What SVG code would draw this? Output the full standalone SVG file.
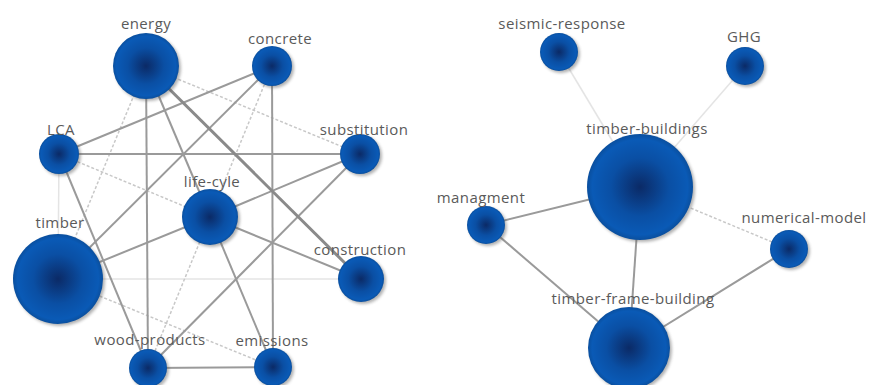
<svg xmlns="http://www.w3.org/2000/svg" width="870" height="385" viewBox="0 0 870 385">
<style>
  .lbl{font-family:"Open Sans","Liberation Sans",sans-serif;font-size:15px;fill:#5a5a5a;text-anchor:middle;letter-spacing:0.4px}
  .node{fill:url(#g)}
  .sh{fill:#555;opacity:0.45;filter:url(#blur)}
  .e1{stroke:#8a8a8a;stroke-width:3;fill:none}
  .e2{stroke:#9a9a9a;stroke-width:2;fill:none}
  .e3{stroke:#c8c8c8;stroke-width:1.5;fill:none;stroke-dasharray:3 2}
  .e4{stroke:#e4e4e4;stroke-width:1.5;fill:none}
</style>
<defs>
  <radialGradient id="g" cx="50%" cy="50%" r="50%">
    <stop offset="0" stop-color="#0b2a66"/>
    <stop offset="0.55" stop-color="#0a4fa4"/>
    <stop offset="0.9" stop-color="#0a5ab6"/>
    <stop offset="1" stop-color="#0a4f9e"/>
  </radialGradient>
  <filter id="blur" x="-20%" y="-20%" width="140%" height="140%"><feGaussianBlur stdDeviation="1.5"/></filter>
</defs>
<rect width="870" height="385" fill="#ffffff"/>
<g id="connectors">
  <!-- left network -->
  <line class="e4" x1="58" y1="279" x2="361" y2="279"/>
  <line class="e3" x1="146" y1="66" x2="58" y2="279"/>
  <line class="e3" x1="146" y1="66" x2="360" y2="154"/>
  <line class="e3" x1="272" y1="66" x2="148" y2="368"/>
  <line class="e3" x1="59" y1="154" x2="210" y2="217"/>
  <line class="e3" x1="58" y1="279" x2="273" y2="367"/>
  <line class="e4" x1="59" y1="154" x2="58" y2="279"/>
  <line class="e2" x1="146" y1="66" x2="148" y2="368"/>
  <line class="e2" x1="146" y1="66" x2="210" y2="217"/>
  <line class="e2" x1="272" y1="66" x2="273" y2="367"/>
  <line class="e2" x1="272" y1="66" x2="59" y2="154"/>
  <line class="e2" x1="272" y1="66" x2="58" y2="279"/>
  <line class="e2" x1="59" y1="154" x2="360" y2="154"/>
  <line class="e2" x1="59" y1="154" x2="148" y2="368"/>
  <line class="e2" x1="58" y1="279" x2="210" y2="217"/>
  <line class="e2" x1="210" y1="217" x2="360" y2="154"/>
  <line class="e2" x1="210" y1="217" x2="361" y2="279"/>
  <line class="e2" x1="210" y1="217" x2="273" y2="367"/>
  <line class="e2" x1="148" y1="368" x2="360" y2="154"/>
  <line class="e2" x1="148" y1="368" x2="273" y2="367"/>
  <line class="e1" x1="146" y1="66" x2="361" y2="279"/>
  <!-- right network -->
  <line class="e4" x1="559" y1="52" x2="640" y2="187"/>
  <line class="e4" x1="745" y1="66" x2="640" y2="187"/>
  <line class="e3" x1="640" y1="187" x2="789" y2="249"/>
  <line class="e2" x1="486" y1="225" x2="640" y2="187"/>
  <line class="e2" x1="640" y1="187" x2="629" y2="348"/>
  <line class="e2" x1="486" y1="225" x2="629" y2="348"/>
  <line class="e2" x1="789" y1="249" x2="629" y2="348"/>
</g>
<g id="energy"><circle class="sh" cx="148" cy="68" r="33"/><circle class="node" cx="146" cy="66" r="33"/><text class="lbl" x="146" y="29">energy</text></g>
<g id="concrete"><circle class="sh" cx="274" cy="68" r="20"/><circle class="node" cx="272" cy="66" r="20"/><text class="lbl" x="280" y="44">concrete</text></g>
<g id="LCA"><circle class="sh" cx="61" cy="156" r="20"/><circle class="node" cx="59" cy="154" r="20"/><text class="lbl" x="61" y="135">LCA</text></g>
<g id="substitution"><circle class="sh" cx="362" cy="156" r="20"/><circle class="node" cx="360" cy="154" r="20"/><text class="lbl" x="364" y="135">substitution</text></g>
<g id="life-cyle"><circle class="sh" cx="212" cy="219" r="28"/><circle class="node" cx="210" cy="217" r="28"/><text class="lbl" x="212" y="187">life-cyle</text></g>
<g id="timber"><circle class="sh" cx="60" cy="281" r="45"/><circle class="node" cx="58" cy="279" r="45"/><text class="lbl" x="60" y="228">timber</text></g>
<g id="construction"><circle class="sh" cx="363" cy="281" r="23"/><circle class="node" cx="361" cy="279" r="23"/><text class="lbl" x="360" y="255">construction</text></g>
<g id="wood-products"><circle class="sh" cx="150" cy="370" r="19"/><circle class="node" cx="148" cy="368" r="19"/><text class="lbl" x="150" y="345">wood-products</text></g>
<g id="emissions"><circle class="sh" cx="275" cy="369" r="19"/><circle class="node" cx="273" cy="367" r="19"/><text class="lbl" x="272" y="346">emissions</text></g>
<g id="seismic-response"><circle class="sh" cx="561" cy="54" r="19"/><circle class="node" cx="559" cy="52" r="19"/><text class="lbl" x="562" y="29">seismic-response</text></g>
<g id="GHG"><circle class="sh" cx="747" cy="68" r="19"/><circle class="node" cx="745" cy="66" r="19"/><text class="lbl" x="744" y="42">GHG</text></g>
<g id="timber-buildings"><circle class="sh" cx="642" cy="189" r="53"/><circle class="node" cx="640" cy="187" r="53"/><text class="lbl" x="647" y="134">timber-buildings</text></g>
<g id="managment"><circle class="sh" cx="488" cy="227" r="19"/><circle class="node" cx="486" cy="225" r="19"/><text class="lbl" x="481" y="203">managment</text></g>
<g id="numerical-model"><circle class="sh" cx="791" cy="251" r="19"/><circle class="node" cx="789" cy="249" r="19"/><text class="lbl" x="804" y="223">numerical-model</text></g>
<g id="timber-frame-building"><circle class="sh" cx="631" cy="350" r="41"/><circle class="node" cx="629" cy="348" r="41"/><text class="lbl" x="633" y="304">timber-frame-building</text></g>
</svg>
